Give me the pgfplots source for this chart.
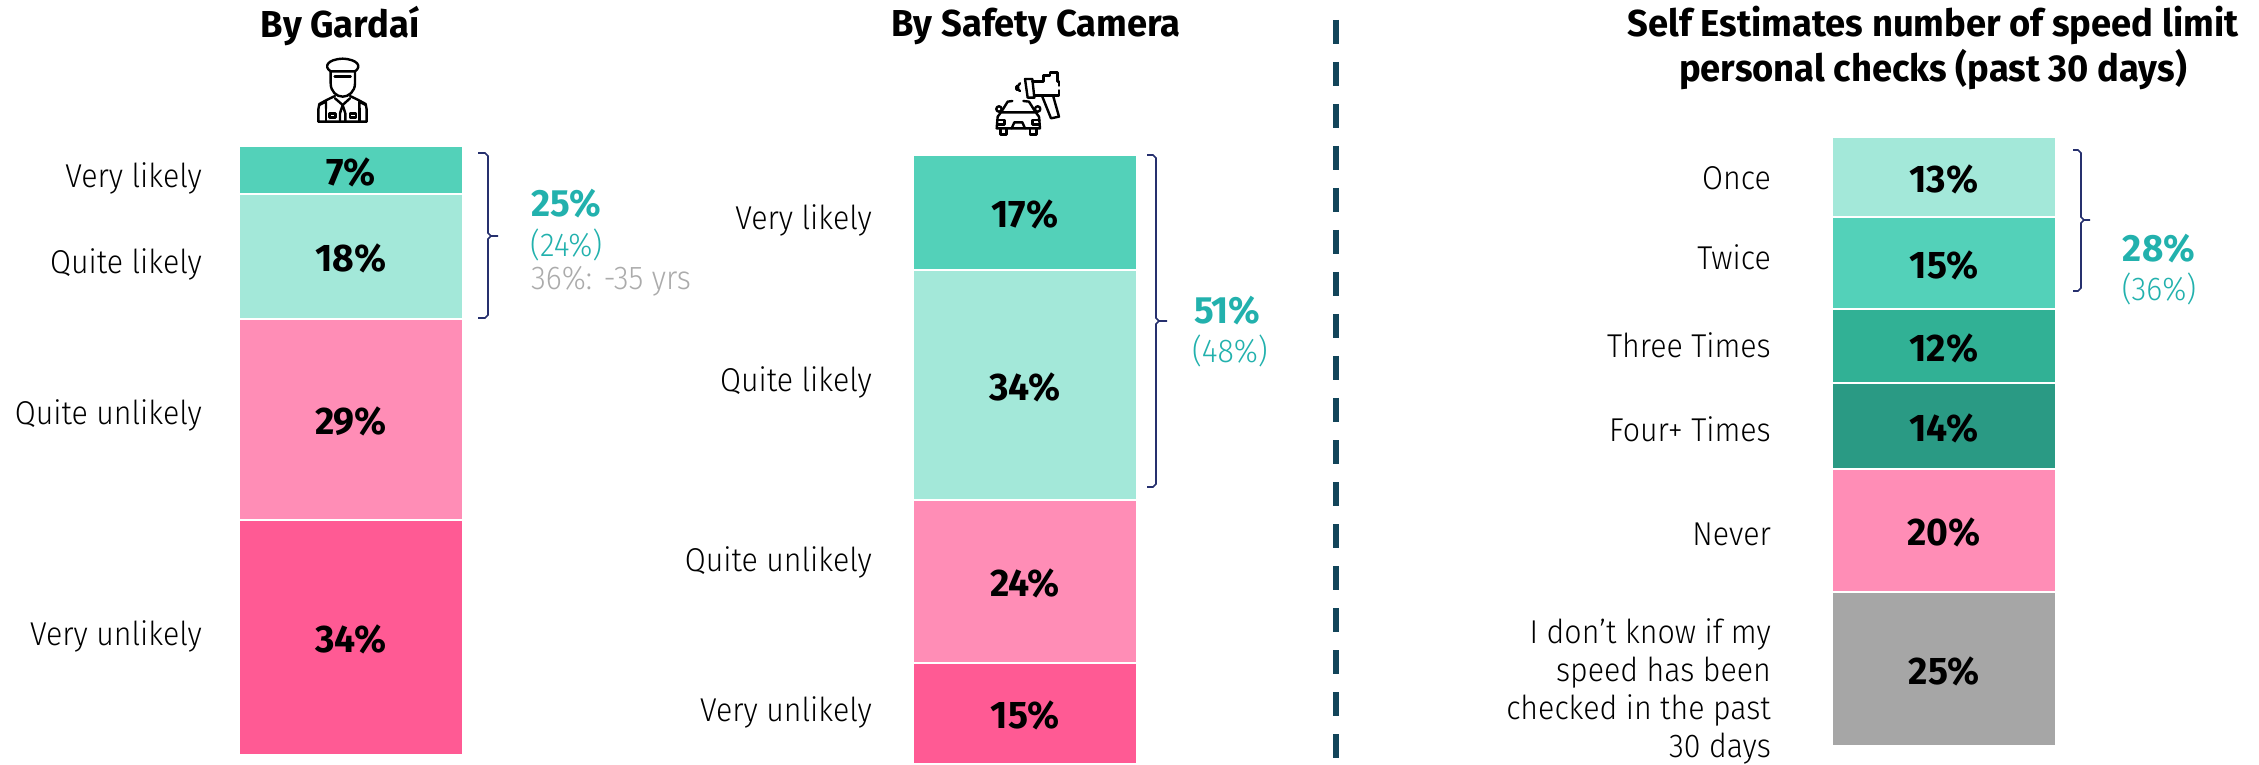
\documentclass[border=0pt]{standalone}
\usepackage{fontspec}
\usepackage{pgfplots}
\pgfplotsset{compat=1.18}
\setmainfont{Fira Sans}[UprightFont=* Light,UprightFeatures={FakeStretch=0.92},BoldFont=* Bold,BoldFeatures={FakeStretch=0.97}]
\definecolor{vl}{HTML}{53D1B9}
\definecolor{ql}{HTML}{A3E8D9}
\definecolor{qu}{HTML}{FF8DB6}
\definecolor{vu}{HTML}{FF5A94}
\definecolor{tt}{HTML}{31B195}
\definecolor{ft}{HTML}{2A9A84}
\definecolor{gy}{HTML}{A6A6A6}
\definecolor{tealtxt}{HTML}{22B1AD}
\definecolor{gtxt}{HTML}{ABABAB}
\definecolor{navyb}{HTML}{26306E}
\definecolor{dashc}{HTML}{12455A}
\newcommand{\fs}[1]{\fontsize{#1}{38}\selectfont}
\newcommand{\labs}[3]{\begin{axis}[scale only axis,width=222pt,height=609pt,at={#1},anchor=south west,hide axis,xmin=-0.5,xmax=0.5,ymin=0,ymax=#2,clip=false]
\addplot[draw=none,mark=none,point meta=explicit symbolic,nodes near coords=\pgfplotspointmeta\%,
  every node near coord/.style={anchor=center,font=\fs{38.5}\bfseries,text=black,yshift=-2pt}] coordinates {#3};
\end{axis}}
\pgfplotsset{
  stk/.style={
    ybar stacked, scale only axis, width=222pt, height=609pt, bar width=224pt,
    xmin=-0.5, xmax=0.5, xtick=\empty, ymin=0, clip=false,
    axis line style={draw=none}, major tick length=0pt,
    anchor=south west,
    yticklabel style={font=\fs{33}, align=right, inner sep=0pt, text=black},
    every axis plot/.append style={draw=white, line width=2pt},
  }
}
\begin{document}
\begin{tikzpicture}
\useasboundingbox (0,0) rectangle (2259pt,764pt);
% By Gardai
\begin{axis}[stk, at={(240pt,9pt)}, ymax=88,
  ytick={83.67,71.24,49.42,17.49},
  yticklabels={Very likely,Quite likely,Quite unlikely,Very unlikely},
  yticklabel style={xshift=-38pt,yshift=-2.5pt}]
\addplot[fill=vu] coordinates {(0,34)};
\addplot[fill=qu] coordinates {(0,29)};
\addplot[fill=ql] coordinates {(0,18)};
\addplot[fill=vl] coordinates {(0,7)};
\end{axis}
\labs{(240pt,9pt)}{88}{(0,17)[34] (0,48.5)[29] (0,72)[18] (0,84.5)[7]}
\begin{axis}[stk, at={(914pt,0pt)}, ymax=90,
  ytick={80.69,56.75,30.15,7.98},
  yticklabels={Very likely,Quite likely,Quite unlikely,Very unlikely},
  yticklabel style={xshift=-42pt,yshift=-2.5pt}]
\addplot[fill=vu] coordinates {(0,15)};
\addplot[fill=qu] coordinates {(0,24)};
\addplot[fill=ql] coordinates {(0,34)};
\addplot[fill=vl] coordinates {(0,17)};
\end{axis}
\labs{(914pt,0pt)}{90}{(0,7.5)[15] (0,27)[24] (0,56)[34] (0,81.5)[17]}
\begin{axis}[stk, at={(1833pt,18pt)}, ymax=99,
  ytick={92.36,79.51,65.2,51.54,34.47,8.94},
  yticklabels={Once,Twice,Three Times,Four+ Times,Never,{I don’t know if my\\speed has been\\checked in the past\\30 days}},
  yticklabel style={xshift=-62pt}]
\addplot[fill=gy] coordinates {(0,25)};
\addplot[fill=qu] coordinates {(0,20)};
\addplot[fill=ft] coordinates {(0,14)};
\addplot[fill=tt] coordinates {(0,12)};
\addplot[fill=vl] coordinates {(0,15)};
\addplot[fill=ql] coordinates {(0,13)};
\end{axis}
\labs{(1833pt,18pt)}{99}{(0,12.5)[25] (0,35)[20] (0,52)[14] (0,65)[12] (0,78.5)[15] (0,92.5)[13]}
\begin{scope}[x=1pt,y=-1pt,yshift=764pt]
% titles
\node[font=\fs{37.5}\bfseries] at (340,26.5) {By Gardaí};
\node[font=\fs{37.5}\bfseries] at (1036,26.5) {By Safety Camera};
\node[font=\fs{37.5}\bfseries] at (1933,25.5) {Self Estimates number of speed limit};
\node[font=\fs{37.5}\bfseries] at (1933,69.5) {personal checks (past 30 days)};
% brackets
\draw[navyb,line width=1.6pt] (478,153)--(485,153)--(488,156)--(488,233)--(491,236)--(498,236) (491,236)--(488,239)--(488,315)--(485,318)--(478,318);
\draw[navyb,line width=1.6pt] (1147,155)--(1153,155)--(1156,158)--(1156,318)--(1159,321)--(1167,321) (1159,321)--(1156,324)--(1156,484)--(1153,487)--(1147,487);
\draw[navyb,line width=1.6pt] (2073,150)--(2078,150)--(2081,153)--(2081,217)--(2084,220)--(2090,220) (2084,220)--(2081,223)--(2081,288)--(2078,291)--(2073,291);
% annotations
\node[anchor=west,inner sep=0pt,text=tealtxt,font=\fs{38}\bfseries] at (531,204) {25\%};
\node[anchor=west,inner sep=0pt,text=tealtxt,font=\fs{33}] at (530,245) {(24\%)};
\node[anchor=west,inner sep=0pt,text=gtxt,font=\fs{33}] at (531,281) {36\%: -35 yrs};
\node[anchor=west,inner sep=0pt,text=tealtxt,font=\fs{38}\bfseries] at (1194,311) {51\%};
\node[anchor=west,inner sep=0pt,text=tealtxt,font=\fs{33}] at (1192,351) {(48\%)};
\node[text=tealtxt,font=\fs{38}\bfseries] at (2159,249) {28\%};
\node[text=tealtxt,font=\fs{33}] at (2159,289) {(36\%)};
% divider
\draw[dashc,line width=6pt,dash pattern=on 24pt off 18pt] (1335.5,20)--(1335.5,758);
% police icon
\begin{scope}[shift={(300,50)},x=0.3333pt,y=-0.3333pt,line width=2.4pt,line join=round,line cap=round]
\draw (92,64) .. controls (70,50) and (82,28) .. (128,26) .. controls (174,28) and (186,50) .. (165,64) -- cycle;
\draw (92,64)--(92,100) .. controls (92,125) and (110,140) .. (128,140) .. controls (146,140) and (165,125) .. (165,100)--(165,64);
\draw (104,80)--(152,80);
\draw (105,138)--(80,150)--(58,162)--(55,178)--(55,215)--(200,215)--(200,178)--(197,162)--(175,150)--(150,138);
\draw (105,145)--(128,165)--(150,145);
\draw (128,165)--(120,190)--(120,215) (128,165)--(136,190)--(136,215);
\draw (78,175)--(78,215) (178,175)--(178,215);
\draw (88,190) rectangle (106,202) (150,190) rectangle (168,202);
\draw (58,165)--(78,155)--(78,175) (197,165)--(178,155)--(178,175);
\end{scope}
% car + camera icon
\begin{scope}[shift={(985,65)},x=0.3333pt,y=-0.3333pt,line width=2.4pt,line join=round,line cap=round]
\draw (48,142)--(68,110)--(82,108) (115,108)--(132,110)--(152,142);
\draw (48,142)--(38,155)--(35,190)--(165,190)--(162,155)--(152,142)--cycle;
\draw (42,132) circle (2.7pt) (158,132) circle (2.7pt);
\draw (46,192)--(46,208)--(65,208)--(65,192) (135,192)--(135,208)--(154,208)--(154,192);
\draw (80,190)--(88,172)--(112,172)--(120,190);
\draw (36,165)--(58,165)--(58,178)--(36,178) (164,165)--(142,165)--(142,178)--(164,178);
\draw (105,55) arc (120:240:4.5pt) (97,62) arc (120:240:2.5pt);
\draw (120,42)--(142,42)--(148,98)--(128,98)--cycle;
\draw (142,50)--(175,50)--(175,32)--(195,32)--(195,22)--(218,22)--(218,50)--(222,50)--(222,62) (222,76)--(222,92)--(147,92);
\draw (172,95)--(198,160)--(222,155)--(205,95);
\end{scope}
\end{scope}
\end{tikzpicture}
\end{document}
